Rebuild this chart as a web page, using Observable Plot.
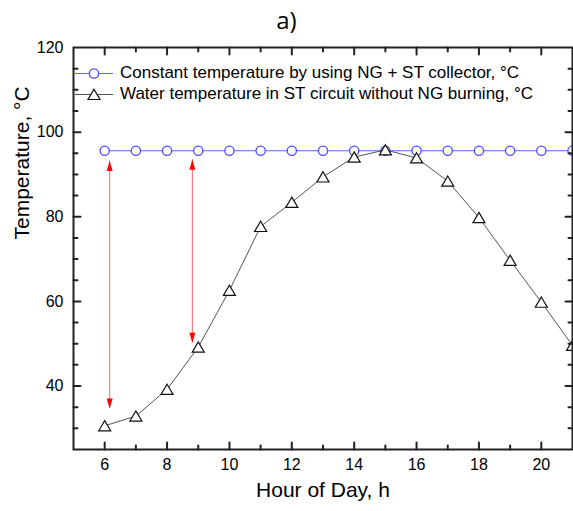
<!DOCTYPE html>
<html><head><meta charset="utf-8">
<script src="https://cdn.jsdelivr.net/npm/d3@7"></script>
<script src="https://cdn.jsdelivr.net/npm/@observablehq/plot@0.6"></script>
<style>
body{margin:0;background:#fff;}
#wrap{position:relative;width:573px;height:511px;font-family:"Liberation Sans",Arial,sans-serif;overflow:hidden;}
#title{position:absolute;left:0;top:0;width:573px;height:40px;text-align:center;font-family:"Open Sans","Noto Sans",sans-serif;font-size:24px;line-height:40px;color:#000;}
#chart{position:absolute;left:0;top:40px;}
#legend{position:absolute;left:75px;top:62.8px;font-size:17px;color:#000;}
.row{display:flex;align-items:center;height:21px;white-space:nowrap;}
.row svg{margin-right:7px;flex:none;}
</style></head>
<body>
<div id="wrap"><div id="title">a)</div><div id="chart"></div><div id="legend"></div></div>
<script>
// ---- data ----
const hours = [6, 7, 8, 9, 10, 11, 12, 13, 14, 15, 16, 17, 18, 19, 20, 21];
const constantTemp = [95.6, 95.6, 95.6, 95.6, 95.6, 95.6, 95.6, 95.6, 95.6, 95.6, 95.6, 95.6, 95.6, 95.6, 95.6, 95.6];
const waterTemp = [30.6, 32.9, 39.2, 49.2, 62.6, 77.7, 83.4, 89.4, 94.1, 95.8, 93.9, 88.4, 79.8, 69.7, 59.8, 49.6];
const seriesNames = ["Constant temperature by using NG + ST collector, °C", "Water temperature in ST circuit without NG burning, °C"];
const arrowHour = [6.16, 8.81];
const arrowTop = [93.2, 93.5];
const arrowBottom = [34.7, 50.2];
const xTickLabels = [6, 8, 10, 12, 14, 16, 18, 20];
const xMinorTicks = [7, 9, 11, 13, 15, 17, 19];
const yTickLabels = [40, 60, 80, 100, 120];
const yMajorTicks = [40, 60, 80, 100];
const yMinorTicks = [30, 35, 45, 50, 55, 65, 70, 75, 85, 90, 95, 105, 110, 115];
const titleText = "a)";
const xTitle = "Hour of Day, h";
const yTitle = "Temperature, °C";

// ---- styles ----
const blue = "#4b4bff";
const blueLine = "#5f5fff";
const dark = "#222";

const rows = hours.map((h, i) => ({hour: h, constant: constantTemp[i], water: waterTemp[i]}));
const arrows = arrowHour.map((h, i) => ({hour: h, top: arrowTop[i], bottom: arrowBottom[i]}));

const triangle = {draw(c) { c.moveTo(0, -5.2); c.lineTo(6, 5); c.lineTo(-6, 5); c.closePath(); }};
const headUp = {draw(c) { c.moveTo(0, 0); c.lineTo(3, 10); c.lineTo(-3, 10); c.closePath(); }};
const headDown = {draw(c) { c.moveTo(0, 0); c.lineTo(3, -10); c.lineTo(-3, -10); c.closePath(); }};
const tickShape = {draw(c, l) { c.moveTo(0, 0); c.lineTo(0, -l); }};

function ticks(values, anchor, len) {
  const rot = {bottom: 0, top: 180, left: 90, right: -90}[anchor];
  const ch = (anchor === "bottom" || anchor === "top") ? {x: d => d} : {y: d => d};
  return Plot.vector(values, {...ch, frameAnchor: anchor, length: len, anchor: "start", rotate: rot, shape: tickShape, stroke: dark, strokeWidth: 2});
}

const chart = Plot.plot({
  width: 573, height: 471,
  marginTop: 7, marginBottom: 62, marginLeft: 73, marginRight: 1,
  x: {domain: [5, 21]},
  y: {domain: [25, 120]},
  style: {fontFamily: "'Liberation Sans', Arial, sans-serif", fontSize: "16px", color: "#000", background: "#fff", overflow: "visible"},
  marks: [
    Plot.axisX({ticks: xTickLabels, tickSize: 0, tickPadding: 9, fontSize: 16, label: null}),
    Plot.axisY({ticks: yTickLabels, tickSize: 0, tickPadding: 10, fontSize: 16, label: null}),
    Plot.line(rows, {x: "hour", y: "constant", stroke: blueLine, strokeWidth: 1, clip: true}),
    Plot.dot(rows, {x: "hour", y: "constant", r: 4.6, stroke: blue, strokeWidth: 1.3, fill: "white", clip: true}),
    Plot.line(rows, {x: "hour", y: "water", stroke: "#555", strokeWidth: 1, clip: true}),
    Plot.dot(rows, {x: "hour", y: "water", symbol: triangle, stroke: "#111", strokeWidth: 1.2, fill: "white", clip: true}),
    Plot.ruleX(arrows, {x: "hour", y1: "bottom", y2: "top", stroke: "#ff5c5c", strokeWidth: 1}),
    Plot.dot(arrows, {x: "hour", y: "top", symbol: headUp, fill: "#ff0000", stroke: "none"}),
    Plot.dot(arrows, {x: "hour", y: "bottom", symbol: headDown, fill: "#ff0000", stroke: "none"}),
    ticks(xTickLabels, "bottom", 7), ticks(xMinorTicks, "bottom", 4),
    ticks(xTickLabels, "top", 7), ticks(xMinorTicks, "top", 4),
    ticks(yMajorTicks, "left", 7), ticks(yMinorTicks, "left", 4),
    ticks(yMajorTicks, "right", 7), ticks(yMinorTicks, "right", 4),
    Plot.frame({stroke: dark, strokeWidth: 2}),
    Plot.text([xTitle], {frameAnchor: "bottom", dy: 47.5, text: d => d, fontSize: 21, fill: "#000"}),
    Plot.text([yTitle], {frameAnchor: "left", dx: -51, dy: -9, rotate: -90, text: d => d, fontSize: 21, fill: "#000"})
  ]
});
document.getElementById("chart").appendChild(chart);
document.getElementById("title").textContent = titleText;

// legend
const legend = document.getElementById("legend");
const NS = "http://www.w3.org/2000/svg";
seriesNames.forEach((name, i) => {
  const row = document.createElement("div");
  row.className = "row";
  const svg = document.createElementNS(NS, "svg");
  svg.setAttribute("width", 38); svg.setAttribute("height", 21);
  const ln = document.createElementNS(NS, "line");
  ln.setAttribute("x1", 0); ln.setAttribute("x2", 38); ln.setAttribute("y1", 10.5); ln.setAttribute("y2", 10.5);
  ln.setAttribute("stroke", i === 0 ? blueLine : "#555"); ln.setAttribute("stroke-width", 1);
  svg.appendChild(ln);
  if (i === 0) {
    const c = document.createElementNS(NS, "circle");
    c.setAttribute("cx", 19); c.setAttribute("cy", 10.5); c.setAttribute("r", 4.6);
    c.setAttribute("fill", "white"); c.setAttribute("stroke", blue); c.setAttribute("stroke-width", 1.3);
    svg.appendChild(c);
  } else {
    const p = document.createElementNS(NS, "path");
    p.setAttribute("d", "M19,5.3L25,15.5L13,15.5Z");
    p.setAttribute("fill", "white"); p.setAttribute("stroke", "#111"); p.setAttribute("stroke-width", 1.2);
    svg.appendChild(p);
  }
  row.appendChild(svg);
  const span = document.createElement("span");
  span.textContent = name;
  row.appendChild(span);
  legend.appendChild(row);
});
</script>
</body></html>
